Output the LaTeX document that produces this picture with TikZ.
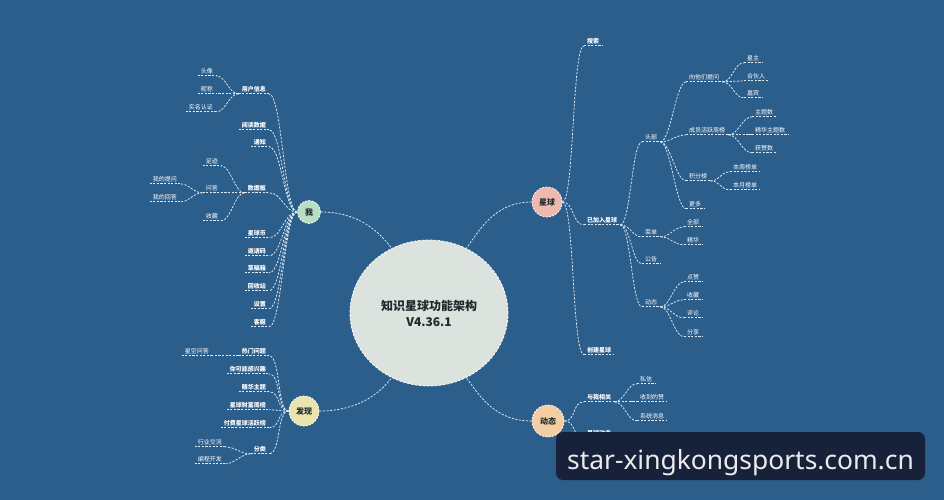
\documentclass[tikz,border=0pt]{standalone}
\usepackage{fontspec}
\newfontfamily\cjk{Noto Sans CJK SC}
\newfontfamily\wmfont{Noto Sans}
\usetikzlibrary{shapes.geometric}
\definecolor{bg}{HTML}{2C5E8C}
\definecolor{lnc}{HTML}{E0ECF5}
\definecolor{cfill}{HTML}{DCE2DD}
\definecolor{wocol}{HTML}{B8DEC3}
\definecolor{xqcol}{HTML}{EDB9AE}
\definecolor{fxcol}{HTML}{EAE3AE}
\definecolor{dtcol}{HTML}{F5CDA3}
\definecolor{wmbg}{HTML}{18213A}
\definecolor{dark}{HTML}{1E2A2E}
\begin{document}
\begin{tikzpicture}[x=1pt,y=-1pt,
  conn/.style={draw=lnc, dash pattern=on 2.2pt off 1.4pt, line width=0.75pt},
  t/.style={text=white, font=\cjk\fontsize{6}{6}\selectfont, inner xsep=3pt, inner ysep=1.5pt, text height=5.5pt, text depth=0.8pt},
  tb/.style={t, font=\cjk\bfseries\fontsize{6}{6}\selectfont},
  rootc/.style={circle, draw=white, dash pattern=on 2pt off 1.3pt, line width=0.7pt, inner sep=0pt, font=\cjk\bfseries\fontsize{8}{8}\selectfont, text=dark},
  wmbox/.style={fill=wmbg, rounded corners=7pt, minimum width=369pt, minimum height=48pt, text=white!92!black, font=\wmfont\fontsize{26.4}{26.4}\selectfont, inner sep=0pt, text height=29pt, text depth=2pt}
]
\useasboundingbox (0,0) rectangle (944,500);
\fill[bg] (0,0) rectangle (944,500);

% centre
\node[ellipse, fill=cfill, draw=white, dash pattern=on 2.5pt off 1.5pt, line width=0.8pt, minimum width=158pt, minimum height=146pt, inner sep=0pt, align=center, font=\cjk\bfseries\fontsize{12}{16}\selectfont, text=dark] (c) at (429,313) {知识星球功能架构\\V4.36.1};

% roots
\node[rootc, fill=wocol, minimum size=23pt] (wo) at (309,212) {我};
\node[rootc, fill=xqcol, minimum size=30pt] (xq) at (547,202) {星球};
\node[rootc, fill=fxcol, minimum size=30pt] (fxr) at (304,411) {发现};
\node[rootc, fill=dtcol, minimum size=32pt] (dtr) at (548,421) {动态};

\draw[conn] (wo.east) .. controls +(38,0) and +(-12,-16) .. (c.120);
\draw[conn] (xq.west) .. controls +(-38,0) and +(12,-16) .. (c.60);
\draw[conn] (fxr.east) .. controls +(38,0) and +(-12,16) .. (c.240);
\draw[conn] (dtr.west) .. controls +(-38,0) and +(12,16) .. (c.300);

% ---------- 我 ----------
\node[tb,anchor=east] (yhxx) at (269,89) {用户信息};
\node[tb,anchor=east] (ydsj) at (269,125) {阅读数据};
\node[tb,anchor=east] (tz) at (269,142) {通知};
\node[tb,anchor=east] (sjb) at (269,188) {数据板};
\node[tb,anchor=east] (xqb) at (269,233) {星球币};
\node[tb,anchor=east] (yqm) at (269,251) {邀请码};
\node[tb,anchor=east] (cgx) at (269,268) {草稿箱};
\node[tb,anchor=east] (hsz) at (269,286) {回收站};
\node[tb,anchor=east] (sz) at (269,304) {设置};
\node[tb,anchor=east] (kf) at (269,322) {客服};
\node[t,anchor=east] (tx) at (216,71) {头像};
\node[t,anchor=east] (nc) at (216,89) {昵称};
\node[t,anchor=east] (smrz) at (216,107) {实名认证};
\node[t,anchor=east] (zj) at (221,161) {足迹};
\node[t,anchor=east] (wd) at (221,188) {问答};
\node[t,anchor=east] (sca) at (221,216) {收藏};
\node[t,anchor=east] (wdtw) at (180,179) {我的提问};
\node[t,anchor=east] (wdhd) at (180,197) {我的回答};

\foreach \n in {yhxx,ydsj,tz,sjb,xqb,yqm,cgx,hsz,sz,kf}
  \draw[conn] (wo.west) .. controls +(-13,0) and +(13,0) .. (\n.south east);
\foreach \n in {tx,nc,smrz}
  \draw[conn] (yhxx.south west) .. controls +(-10,0) and +(10,0) .. (\n.south east);
\foreach \n in {zj,wd,sca}
  \draw[conn] (sjb.south west) .. controls +(-10,0) and +(10,0) .. (\n.south east);
\foreach \n in {wdtw,wdhd}
  \draw[conn] (wd.south west) .. controls +(-10,0) and +(10,0) .. (\n.south east);

% ---------- 发现 ----------
\node[tb,anchor=east] (rmwt) at (269,351) {热门问题};
\node[tb,anchor=east] (nkn) at (269,369) {你可能感兴趣};
\node[tb,anchor=east] (jhzt) at (269,387) {精华主题};
\node[tb,anchor=east] (xqcf) at (269,405) {星球财富周榜};
\node[tb,anchor=east] (ffxq) at (269,423) {付费星球活跃榜};
\node[tb,anchor=east] (fl) at (269,449) {分类};
\node[t,anchor=east] (xkwd) at (212,351) {星空问答};
\node[t,anchor=east] (hyjl) at (225,442) {行业交流};
\node[t,anchor=east] (bckf) at (225,459) {编程开发};

\foreach \n in {rmwt,nkn,jhzt,xqcf,ffxq,fl}
  \draw[conn] (fxr.west) .. controls +(-12,0) and +(12,0) .. (\n.south east);
\draw[conn] (rmwt.south west) -- (xkwd.south east);
\foreach \n in {hyjl,bckf}
  \draw[conn] (fl.south west) .. controls +(-10,0) and +(10,0) .. (\n.south east);

% ---------- 星球 ----------
\node[tb,anchor=west] (ss) at (584,41) {搜索};
\node[tb,anchor=west] (yjr) at (584,220) {已加入星球};
\node[tb,anchor=west] (cjxq) at (584,350) {创建星球};
\node[t,anchor=west] (tbu) at (642,137) {头部};
\node[t,anchor=west] (cd) at (642,232) {菜单};
\node[t,anchor=west] (gg) at (642,259) {公告};
\node[t,anchor=west] (dtb) at (642,302) {动态};
\node[t,anchor=west] (xtm) at (686,77) {向他们提问};
\node[t,anchor=west] (cyhy) at (686,130) {成员活跃周榜};
\node[t,anchor=west] (jfb) at (686,176) {积分榜};
\node[t,anchor=west] (gd) at (686,204) {更多};
\node[t,anchor=west] (qb) at (684,222) {全部};
\node[t,anchor=west] (jh) at (684,240) {精华};
\node[t,anchor=west] (dz) at (684,277) {点赞};
\node[t,anchor=west] (scb) at (684,295) {收藏};
\node[t,anchor=west] (pl) at (684,313) {评论};
\node[t,anchor=west] (fxb) at (684,332) {分享};
\node[t,anchor=west] (xz) at (744,58) {星主};
\node[t,anchor=west] (hhr) at (744,76) {合伙人};
\node[t,anchor=west] (jb) at (744,93) {嘉宾};
\node[t,anchor=west] (zts) at (752,112) {主题数};
\node[t,anchor=west] (jhzts) at (752,130) {精华主题数};
\node[t,anchor=west] (hzs) at (752,148) {获赞数};
\node[t,anchor=west] (bzbd) at (730,167) {本周榜单};
\node[t,anchor=west] (bybd) at (730,185) {本月榜单};

\foreach \n in {ss,yjr,cjxq}
  \draw[conn] (xq.east) .. controls +(12,0) and +(-12,0) .. (\n.south west);
\foreach \n in {tbu,cd,gg,dtb}
  \draw[conn] (yjr.south east) .. controls +(10,0) and +(-10,0) .. (\n.south west);
\foreach \n in {xtm,cyhy,jfb,gd}
  \draw[conn] (tbu.south east) .. controls +(10,0) and +(-10,0) .. (\n.south west);
\foreach \n in {qb,jh}
  \draw[conn] (cd.south east) .. controls +(10,0) and +(-10,0) .. (\n.south west);
\foreach \n in {dz,scb,pl,fxb}
  \draw[conn] (dtb.south east) .. controls +(10,0) and +(-10,0) .. (\n.south west);
\foreach \n in {xz,hhr,jb}
  \draw[conn] (xtm.south east) .. controls +(10,0) and +(-10,0) .. (\n.south west);
\foreach \n in {zts,jhzts,hzs}
  \draw[conn] (cyhy.south east) .. controls +(10,0) and +(-10,0) .. (\n.south west);
\foreach \n in {bzbd,bybd}
  \draw[conn] (jfb.south east) .. controls +(10,0) and +(-10,0) .. (\n.south west);

% ---------- 动态 ----------
\node[tb,anchor=west] (wxgx) at (584,397) {与我相关};
\node[tb,anchor=west] (xqdt) at (584,433) {星球动态};
\node[t,anchor=west] (sx) at (637,379) {私信};
\node[t,anchor=west] (sddz) at (637,397) {收到的赞};
\node[t,anchor=west] (xtxx) at (637,416) {系统消息};
\foreach \n in {wxgx,xqdt}
  \draw[conn] (dtr.east) .. controls +(12,0) and +(-12,0) .. (\n.south west);
\foreach \n in {sx,sddz,xtxx}
  \draw[conn] (wxgx.south east) .. controls +(10,0) and +(-10,0) .. (\n.south west);

% underlines
\foreach \n in {yhxx,ydsj,tz,sjb,xqb,yqm,cgx,hsz,sz,kf,tx,nc,smrz,zj,wd,sca,wdtw,wdhd,
  rmwt,nkn,jhzt,xqcf,ffxq,fl,xkwd,hyjl,bckf,
  ss,yjr,cjxq,tbu,cd,gg,dtb,xtm,cyhy,jfb,gd,qb,jh,dz,scb,pl,fxb,xz,hhr,jb,zts,jhzts,hzs,bzbd,bybd,
  wxgx,xqdt,sx,sddz,xtxx}
  \draw[conn] (\n.south west) -- (\n.south east);

% watermark
\node[wmbox] (wm) at (740.5,456) {star-xingkongsports.com.cn};
\end{tikzpicture}
\end{document}
